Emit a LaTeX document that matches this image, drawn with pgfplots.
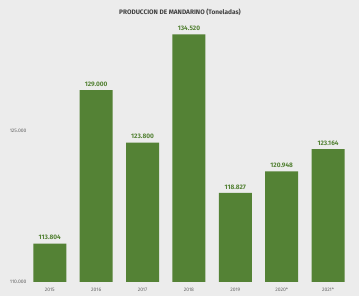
\documentclass[border=0pt]{standalone}
\usepackage{pgfplots}
\pgfplotsset{compat=1.18}
\usepackage{fontspec}
\setmainfont{Fira Sans}
\definecolor{bargreen}{HTML}{548235}
\definecolor{bg}{HTML}{ECECEC}
\begin{document}
\begin{tikzpicture}[x=1pt,y=1pt]
\fill[bg] (0,0) rectangle (359,296);
\begin{axis}[
  at={(28pt,14pt)}, anchor=south west,
  scale only axis, width=327pt, height=262pt,
  xmin=-0.47, xmax=6.58,
  ymin=110000, ymax=135940,
  scaled y ticks=false,
  clip=false,
  ybar, bar width=33pt,
  xtick=data,
  xticklabels={2015,2016,2017,2018,2019,2020*,2021*},
  ytick={110000,125000},
  yticklabels={110.000,125.000},
  tick style={draw=none},
  axis line style={draw=none},
  every tick label/.append style={font=\fontsize{5}{6}\selectfont, text=black!60},
  xticklabel style={yshift=2pt},
  yticklabel style={xshift=2pt},
  nodes near coords={\pgfmathprintnumber[assume math mode=true, fixed, precision=0, 1000 sep={.}]{\pgfplotspointmeta}},
  nodes near coords style={font=\fontsize{6.5}{7}\selectfont\bfseries, text=bargreen},
]
\addplot[fill=bargreen, draw=none] coordinates {
(0,113804) (1,129000) (2,123800) (3,134520) (4,118827) (5,120948) (6,123164)};
\end{axis}
\node[font=\fontsize{6.5}{7}\selectfont\bfseries, text=black!75] at (180,284) {PRODUCCION DE MANDARINO (Toneladas)};
\end{tikzpicture}
\end{document}
